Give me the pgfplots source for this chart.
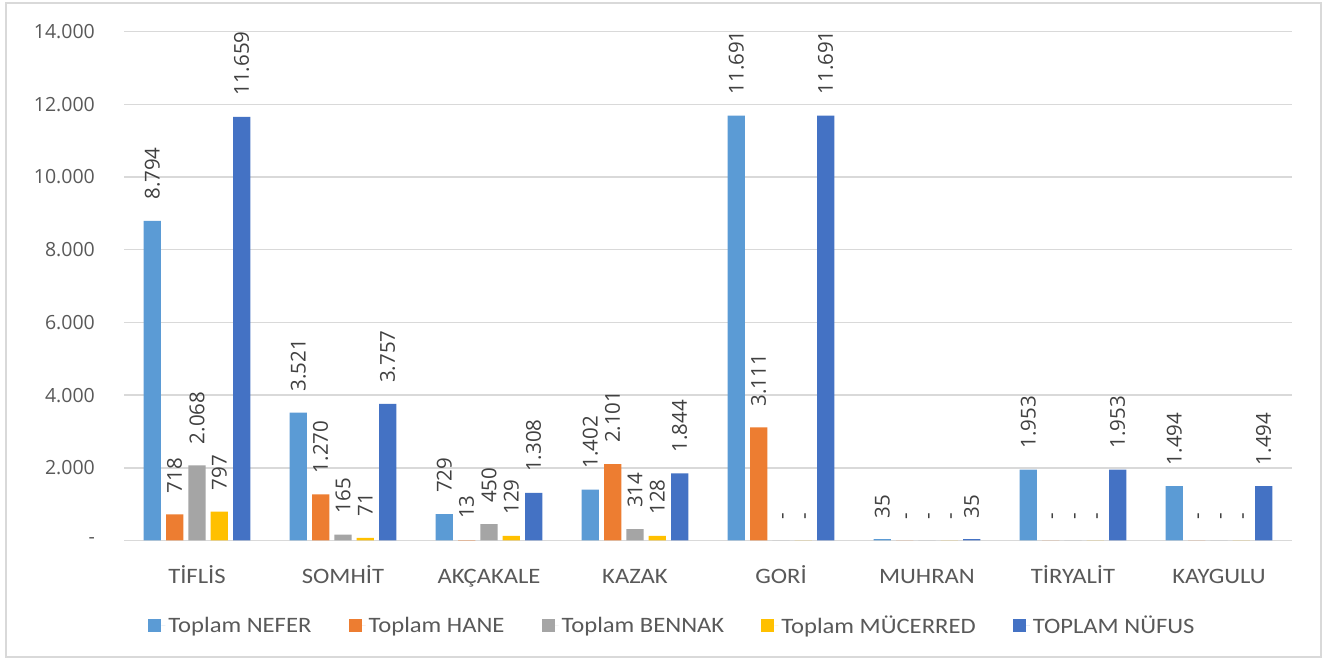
\documentclass[border=0pt]{standalone}
\usepackage{pgfplots}
\pgfplotsset{compat=1.18}
\usepackage{fontspec}
\setmainfont{Carlito}[FakeStretch=1.12]
\newfontfamily\labfont{Open Sans}
\definecolor{cNEF}{HTML}{5B9BD5}
\definecolor{cHAN}{HTML}{ED7D31}
\definecolor{cBEN}{HTML}{A5A5A5}
\definecolor{cMUC}{HTML}{FFC000}
\definecolor{cNUF}{HTML}{4472C4}
\definecolor{txt}{HTML}{595959}
\definecolor{lab}{HTML}{404040}
\definecolor{grd}{HTML}{D9D9D9}
\begin{document}
\begin{tikzpicture}[x=1pt,y=1pt]
\fill[white] (0,0) rectangle (1330,661);
\draw[grd, line width=1.2pt] (6,4) rectangle (1321,658);
\begin{axis}[
  at={(124pt,120.5pt)}, anchor=south west,
  scale only axis, width=1168pt, height=508.8pt,
  clip=false,
  xmin=-0.5, xmax=7.5, ymin=0, ymax=14000,
  scaled y ticks=false,
  axis line style={draw=none}, tick style={draw=none},
  ymajorgrids, grid style={grd, line width=1.4pt},
  ytick={0,2000,4000,6000,8000,10000,12000,14000},
  yticklabels={-\hspace{9pt},2.000,4.000,6.000,8.000,10.000,12.000,14.000},
  yticklabel style={font=\labfont\fontsize{19.5}{23}\selectfont, color=txt, anchor=east, inner sep=0pt, xshift=-29pt},
  xtick={0,...,7},
  xticklabels={TİFLİS,SOMHİT,AKÇAKALE,KAZAK,GORİ,MUHRAN,TİRYALİT,KAYGULU},
  xticklabel style={font=\fontsize{22}{26}\selectfont, color=txt, anchor=base, inner sep=0pt, yshift=-38.5pt},
  ybar, bar width=0.118,
  point meta=explicit symbolic,
  nodes near coords={\pgfplotspointmeta},
  every node near coord/.append style={font=\labfont\fontsize{20.5}{24}\selectfont, color=lab, rotate=90, anchor=west, inner xsep=21pt, inner ysep=0pt, text height=14.6pt, text depth=0pt},
  legend columns=5,
  legend style={draw=none, fill=none, at={(0.470,-0.167)}, anchor=center,
    font=\fontsize{22}{26}\selectfont, text=txt,
    /tikz/every even column/.append style={column sep=34pt},
    nodes={inner xsep=3pt}},
  legend image code/.code={\fill[#1, draw=none] (0pt,-6.5pt) rectangle (13pt,6.5pt); \path (13pt,0pt) -- (17pt,0pt);},
]
\addplot[fill=cNEF, draw=none, bar shift=-0.306] coordinates {(0,8794) [8.794] (1,3521) [3.521] (2,729) [729] (3,1402) [1.402] (4,11691) [11.691] (5,35) [35] (6,1953) [1.953] (7,1494) [1.494]};
\addplot[fill=cHAN, draw=none, bar shift=-0.153] coordinates {(0,718) [718] (1,1270) [1.270] (2,13) [13] (3,2101) [2.101] (4,3111) [3.111] (5,0) [-] (6,0) [-] (7,0) [-]};
\addplot[fill=cBEN, draw=none, bar shift=0] coordinates {(0,2068) [2.068] (1,165) [165] (2,450) [450] (3,314) [314] (4,0) [-] (5,0) [-] (6,0) [-] (7,0) [-]};
\addplot[fill=cMUC, draw=none, bar shift=0.153] coordinates {(0,797) [797] (1,71) [71] (2,129) [129] (3,128) [128] (4,0) [-] (5,0) [-] (6,0) [-] (7,0) [-]};
\addplot[fill=cNUF, draw=none, bar shift=0.306] coordinates {(0,11659) [11.659] (1,3757) [3.757] (2,1308) [1.308] (3,1844) [1.844] (4,11691) [11.691] (5,35) [35] (6,1953) [1.953] (7,1494) [1.494]};
\legend{Toplam NEFER, Toplam HANE, Toplam BENNAK, Toplam MÜCERRED, TOPLAM NÜFUS}
\end{axis}
\end{tikzpicture}
\end{document}
